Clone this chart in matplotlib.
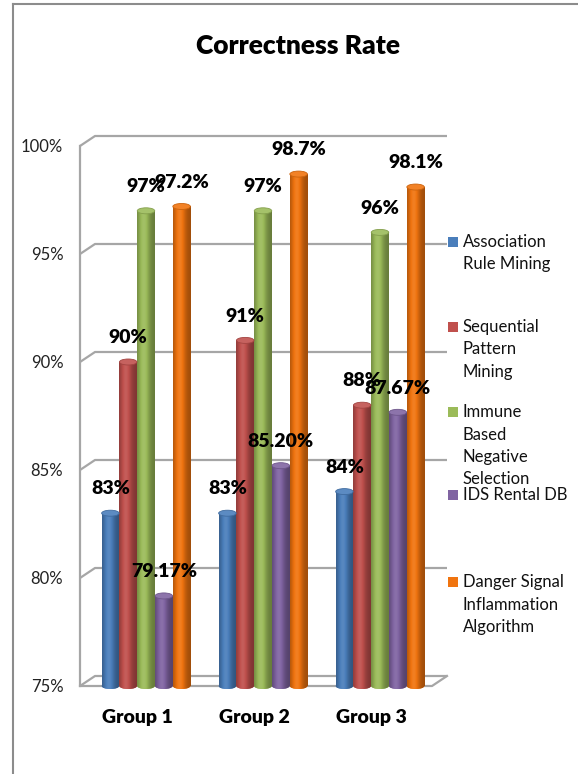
import numpy as np
import matplotlib.pyplot as plt
import matplotlib.colors as mcolors
from matplotlib.patches import Ellipse
from matplotlib.lines import Line2D

plt.rcParams["font.family"] = ["Lato", "DejaVu Sans"]

# Chart data
groups = ["Group 1", "Group 2", "Group 3"]
series_names = [
    "Association\nRule Mining",
    "Sequential\nPattern\nMining",
    "Immune\nBased\nNegative\nSelection",
    "IDS Rental DB",
    "Danger Signal\nInflammation\nAlgorithm",
]
association = [83, 83, 84]
sequential = [90, 91, 88]
immune = [97, 97, 96]
ids_rental = [79.17, 85.20, 87.67]
danger = [97.2, 98.7, 98.1]
value_labels = [
    ["83%", "83%", "84%"],
    ["90%", "91%", "88%"],
    ["97%", "97%", "96%"],
    ["79.17%", "85.20%", "87.67%"],
    ["97.2%", "98.7%", "98.1%"],
]
colors = ["#4A7EBB", "#C0504D", "#9BBB59", "#8064A2", "#F0740F"]
yticks = [75, 80, 85, 90, 95, 100]
ytick_labels = ["75%", "80%", "85%", "90%", "95%", "100%"]

all_series = [association, sequential, immune, ids_rental, danger]

W, H = 578, 774
fig = plt.figure(figsize=(W / 100, H / 100), dpi=100)

# plot area in pixels: x 80..447, value 75 at y=686, 100 at y=146
px_per_pct = 21.6
y_lo, y_hi = 74, 100
top_px = 146
bot_px = 686 + (75 - y_lo) * px_per_pct
x_left_px, x_right_px = 80, 447
ax = fig.add_axes([x_left_px / W, (H - bot_px) / H,
                   (x_right_px - x_left_px) / W, (bot_px - top_px) / H])

grp_px0, grp_step = 146, 117.0
x_lo = (x_left_px - grp_px0) / grp_step
x_hi = (x_right_px - grp_px0) / grp_step
px_x = 1 / grp_step

bar_w = 17.5 * px_x
bar_step = 17.8 * px_x
cap_h = 6 / px_per_pct
dx = 15 * px_x
dy = 10 / px_per_pct
x = np.arange(len(groups))

wall = "#A6A6A6"
# back wall gridlines with perspective at the left side
for v in yticks:
    ax.plot([x_lo, x_lo + dx, x_hi], [v, v + dy, v + dy], color=wall, lw=1.6,
            solid_capstyle="butt", zorder=1, clip_on=False)
ax.plot([x_lo, x_lo], [75, 100], color=wall, lw=1.6, zorder=1, clip_on=False)
# floor front edge
ax.plot([x_lo, x_hi - dx, x_hi], [75, 75, 75 + dy], color=wall, lw=1.6,
        zorder=1, clip_on=False)


def shade(base, n=64):
    t = np.linspace(0, 1, n)
    lum = 0.66 + 0.42 * np.exp(-((t - 0.38) / 0.32) ** 2)
    rgb = np.array(mcolors.to_rgb(base))
    lum = lum[:, None]
    out = np.where(lum <= 1, rgb * lum, rgb + (1 - rgb) * (lum - 1))
    return np.clip(out, 0, 1)[None, :, :]


def mix(base, other, a):
    b = np.array(mcolors.to_rgb(base))
    o = np.array(mcolors.to_rgb(other))
    return tuple(b * (1 - a) + o * a)


for k, (vals, col) in enumerate(zip(all_series, colors)):
    xc = x + (k - 2) * bar_step
    bars = ax.bar(xc, np.array(vals) - 75, bottom=75, width=bar_w,
                  color=col, linewidth=0, zorder=3)
    grad = shade(col)
    for j, (b, v) in enumerate(zip(bars, vals)):
        x0 = xc[j] - bar_w / 2
        # round bottom of the cylinder
        bottom = Ellipse((xc[j], 75), bar_w, cap_h, facecolor=col, lw=0, zorder=2)
        ax.add_patch(bottom)
        im = ax.imshow(grad, extent=(x0, x0 + bar_w, 75 - cap_h, 75 + cap_h),
                       aspect="auto", interpolation="bilinear", zorder=2)
        im.set_clip_path(bottom)
        im = ax.imshow(grad, extent=(x0, x0 + bar_w, 75, v), aspect="auto",
                       interpolation="bilinear", zorder=3.5)
        im.set_clip_path(b)
        # top cap
        ax.add_patch(Ellipse((xc[j], v), bar_w, cap_h,
                             facecolor=mix(col, "white", 0.1),
                             edgecolor=mix(col, "black", 0.15), lw=0.6, zorder=4))
        ax.annotate(value_labels[k][j], (xc[j], v), xytext=(0, 17.5),
                    textcoords="offset points", ha="center", va="center",
                    fontsize=14, fontweight="heavy", color="black", zorder=6)

ax.set_xlim(x_lo, x_hi)
ax.set_ylim(y_lo, y_hi)
ax.set_yticks(yticks)
ax.set_yticklabels(ytick_labels, fontsize=12, color="#222222")
ax.tick_params(axis="y", length=0, pad=12)
ax.set_xticks([])
for s in ax.spines.values():
    s.set_visible(False)
ax.patch.set_visible(False)

for i, g in enumerate(groups):
    ax.annotate(g, (i - 0.07, 75), xytext=(0, -23), textcoords="offset points",
                ha="center", va="center", fontsize=14, fontweight="heavy")

fig.text(298 / W, 1 - 46 / H, "Correctness Rate", ha="center", va="center",
         fontsize=19, fontweight="heavy")

# legend: evenly spaced entries at the right
legend_y = [242, 327, 412, 495, 582]
for name, col, ly in zip(series_names, colors, legend_y):
    fig.patches.append(plt.Rectangle((448 / W, 1 - (ly + 5) / H), 10 / W, 10 / H,
                                     transform=fig.transFigure, facecolor=col,
                                     edgecolor="none"))
    fig.text(463 / W, 1 - (ly - 8) / H, name, ha="left", va="top",
             fontsize=12, linespacing=1.5, color="#111111")

# outer chart frame
frame = "#8C8C8C"
fig.add_artist(Line2D([13 / W, 13 / W], [0, 1 - 4 / H], color=frame, lw=1.5,
                      transform=fig.transFigure))
fig.add_artist(Line2D([13 / W, 1], [1 - 4 / H, 1 - 4 / H], color=frame, lw=1.5,
                      transform=fig.transFigure))

fig.savefig("out.png", dpi=100)
